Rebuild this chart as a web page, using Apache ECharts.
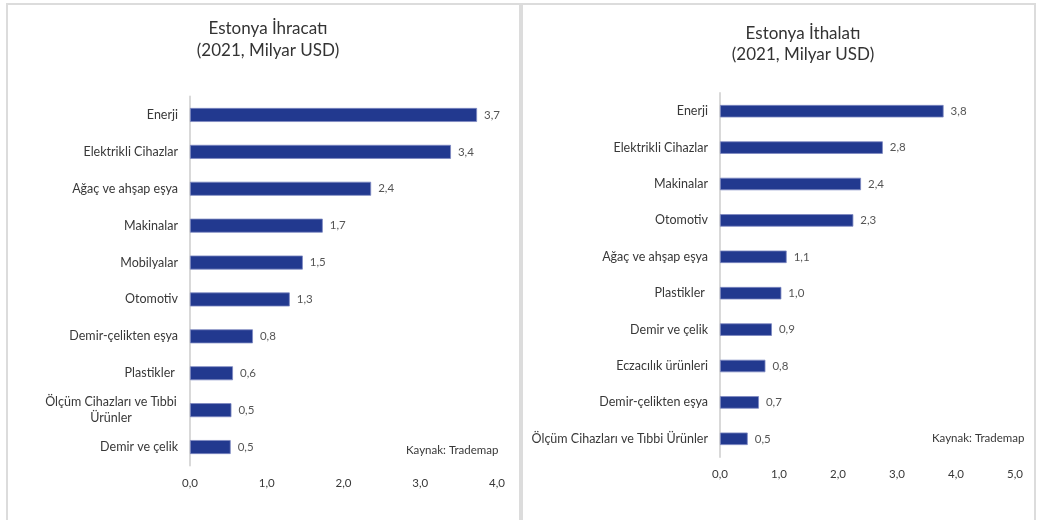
<!DOCTYPE html>
<html>
<head>
<meta charset="utf-8">
<script src="https://cdn.jsdelivr.net/npm/echarts@6/dist/echarts.min.js"></script>
<style>
html,body{margin:0;padding:0;background:#fff;}
#c{width:1041px;height:520px;}
</style>
</head>
<body>
<div id="c"></div>
<script>
// Left chart: exports
const exportCategories = ["Enerji", "Elektrikli Cihazlar", "Ağaç ve ahşap eşya", "Makinalar", "Mobilyalar", "Otomotiv", "Demir-çelikten eşya", "Plastikler ", "Ölçüm Cihazları ve Tıbbi Ürünler", "Demir ve çelik"];
const exportValues = [3.74, 3.40, 2.36, 1.73, 1.47, 1.30, 0.82, 0.56, 0.54, 0.53];
const exportTicks = [0, 1, 2, 3, 4];

// Right chart: imports
const importCategories = ["Enerji", "Elektrikli Cihazlar", "Makinalar", "Otomotiv", "Ağaç ve ahşap eşya", "Plastikler ", "Demir ve çelik", "Eczacılık ürünleri", "Demir-çelikten eşya", "Ölçüm Cihazları ve Tıbbi Ürünler"];
const importValues = [3.79, 2.76, 2.39, 2.26, 1.13, 1.04, 0.88, 0.77, 0.66, 0.47];
const importTicks = [0, 1, 2, 3, 4, 5];

const titles = ["Estonya İhracatı\n(2021, Milyar USD)", "Estonya İthalatı\n(2021, Milyar USD)"];
const sourceText = "Kaynak: Trademap";

const FONT = "Lato";
const TXT = '#383838';
const fmt = v => v.toFixed(1).replace('.', ',');
const barColor = '#22398f';

const chart = echarts.init(document.getElementById('c'), null, {renderer: 'canvas'});

function catLabel(isLeft) {
  return {
    color: TXT, fontSize: 12.5, fontFamily: FONT, margin: 12,
    formatter: function (v) {
      if (isLeft && v.indexOf('Ölçüm') === 0) {
        return '{c|Ölçüm Cihazları ve Tıbbi}\n{c|Ürünler}';
      }
      return v;
    },
    rich: { c: { align: 'center', width: 134, fontSize: 12.5, fontFamily: FONT, color: TXT, lineHeight: 16 } }
  };
}

chart.setOption({
  animation: false,
  title: [
    { text: titles[0], left: 263, top: 13, textAlign: 'center',
      textStyle: { fontFamily: FONT, fontSize: 17, fontWeight: 'normal', color: '#333', lineHeight: 22, align: 'center' } },
    { text: titles[1], left: 798, top: 18, textAlign: 'center',
      textStyle: { fontFamily: FONT, fontSize: 17, fontWeight: 'normal', color: '#333', lineHeight: 21, align: 'center' } }
  ],
  graphic: [
    { type: 'rect', shape: { x: 7, y: 4, width: 513, height: 540 }, style: { fill: 'none', stroke: '#dcdcdc', lineWidth: 2 }, z: 0 },
    { type: 'rect', shape: { x: 522, y: 4, width: 513, height: 540 }, style: { fill: 'none', stroke: '#dcdcdc', lineWidth: 2 }, z: 0 },
    { type: 'text', left: 406, top: 444, style: { text: sourceText, fill: TXT, fontSize: 11.5, fontFamily: FONT } },
    { type: 'text', left: 932, top: 432, style: { text: sourceText, fill: TXT, fontSize: 11.5, fontFamily: FONT } }
  ],
  grid: [
    { left: 190, top: 96.5, width: 307, height: 369, containLabel: false },
    { left: 720, top: 93, width: 295, height: 364, containLabel: false }
  ],
  xAxis: [
    { gridIndex: 0, type: 'value', min: exportTicks[0], max: exportTicks[exportTicks.length - 1], interval: 1,
      axisLine: { show: false }, axisTick: { show: false }, splitLine: { show: false },
      axisLabel: { formatter: fmt, color: TXT, fontSize: 11.5, fontFamily: FONT, margin: 12 } },
    { gridIndex: 1, type: 'value', min: importTicks[0], max: importTicks[importTicks.length - 1], interval: 1,
      axisLine: { show: false }, axisTick: { show: false }, splitLine: { show: false },
      axisLabel: { formatter: fmt, color: TXT, fontSize: 11.5, fontFamily: FONT, margin: 11 } }
  ],
  yAxis: [
    { gridIndex: 0, type: 'category', data: exportCategories, inverse: true,
      axisLine: { show: true, lineStyle: { color: '#d9d9d9', width: 2 } }, axisTick: { show: false },
      axisLabel: catLabel(true) },
    { gridIndex: 1, type: 'category', data: importCategories, inverse: true,
      axisLine: { show: true, lineStyle: { color: '#d9d9d9', width: 2 } }, axisTick: { show: false },
      axisLabel: catLabel(false) }
  ],
  series: [
    { type: 'bar', xAxisIndex: 0, yAxisIndex: 0, data: exportValues, barWidth: 14,
      itemStyle: { color: barColor, borderColor: '#7d89c2', borderWidth: 0.8 },
      label: { show: true, position: 'right', distance: 7, color: '#555', fontSize: 11.5, fontFamily: FONT,
        formatter: p => fmt(p.value) } },
    { type: 'bar', xAxisIndex: 1, yAxisIndex: 1, data: importValues, barWidth: 12.5,
      itemStyle: { color: barColor, borderColor: '#7d89c2', borderWidth: 0.8 },
      label: { show: true, position: 'right', distance: 7, color: '#555', fontSize: 11.5, fontFamily: FONT,
        formatter: p => fmt(p.value) } }
  ]
});
</script>
</body>
</html>
